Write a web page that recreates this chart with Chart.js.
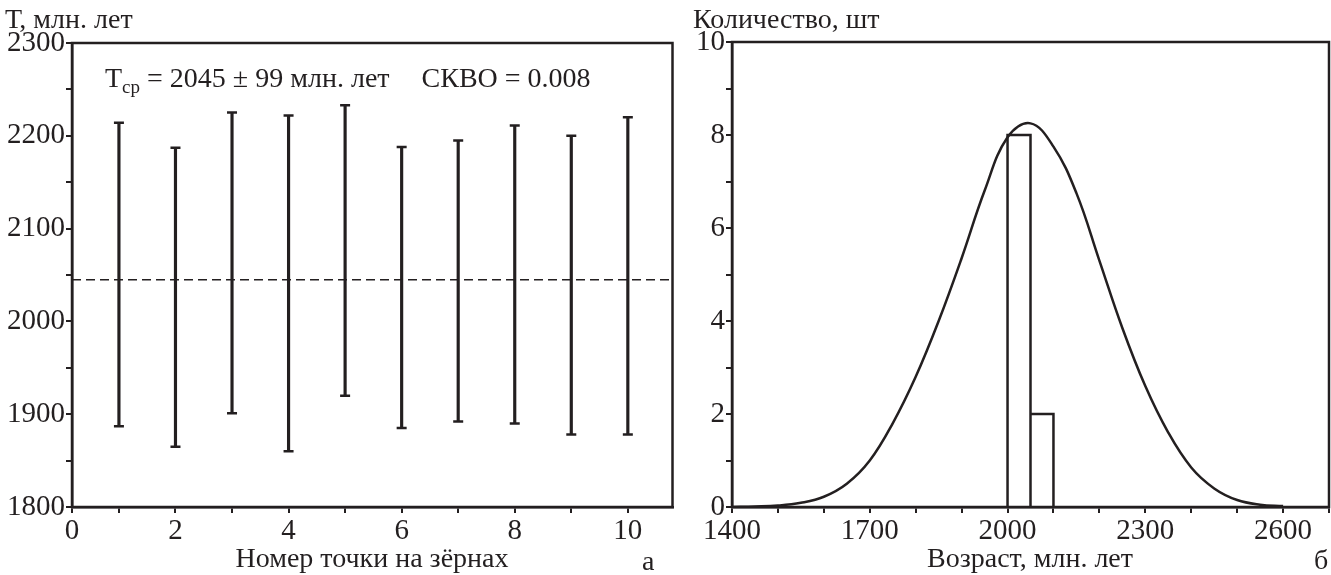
<!DOCTYPE html>
<html lang="ru">
<head>
<meta charset="utf-8">
<title>Возраст зёрен</title>
<script src="https://cdn.jsdelivr.net/npm/chart.js@4.4.1/dist/chart.umd.min.js"></script>
<style>
  html, body { margin: 0; padding: 0; background: #fff; }
  body {
    width: 1331px; height: 575px; position: relative; overflow: hidden;
    font-family: 'Liberation Serif', 'DejaVu Serif', serif; color: #231f20;
  }
  canvas { position: absolute; top: 0; }
  #ageChart { left: 0; }
  #histChart { left: 680px; }
  .lbl { position: absolute; white-space: nowrap; line-height: 1; }
  .lbl sub { font-size: 0.68em; vertical-align: -0.3em; line-height: 0; }
</style>
</head>
<body>
<canvas id="ageChart" width="680" height="575"></canvas>
<canvas id="histChart" width="651" height="575"></canvas>

<div class="lbl" style="left:5px; top:5px; font-size:28px;">Т, млн. лет</div>
<div class="lbl" style="left:105px; top:64px; font-size:28px;">T<sub>ср</sub> = 2045 ± 99 млн. лет<span style="margin-left:32px;">СКВО = 0.008</span></div>
<div class="lbl" style="left:372px; top:544px; font-size:28px; transform:translateX(-50%);">Номер точки на зёрнах</div>
<div class="lbl" style="left:642px; top:547px; font-size:28px;">а</div>

<div class="lbl" style="left:693px; top:5px; font-size:28px;">Количество, шт</div>
<div class="lbl" style="left:1030px; top:544px; font-size:28px; transform:translateX(-50%);">Возраст, млн. лет</div>
<div class="lbl" style="left:1314px; top:546px; font-size:28px;">б</div>

<script>
// Chart.js defaults
const ink = '#231f20';
Chart.defaults.color = ink;
Chart.defaults.font.family = "'Liberation Serif', 'DejaVu Serif', serif";
Chart.defaults.font.size = 29;

// --- Левый график: возраст по точкам ---
const pointNumbers = [1, 2, 3, 4, 5, 6, 7, 8, 9, 10];
const ageLow  = [1887, 1865, 1901, 1860, 1920, 1885, 1892, 1890, 1878, 1878];
const ageHigh = [2214, 2187, 2225, 2222, 2233, 2188, 2195, 2211, 2200, 2220];
const meanAge = 2045;
const leftXLabels = [0, 2, 4, 6, 8, 10];
const leftYLabels = [1800, 1900, 2000, 2100, 2200, 2300];

// --- Правый график: гистограмма и кривая ---
const binEdges = [2000, 2050, 2100];
const binCounts = [8, 2];
const curveAges   = [1400, 1450, 1500, 1550, 1600, 1650, 1700, 1750, 1800, 1850, 1900, 1950, 2000,
                     2050, 2100, 2150, 2200, 2250, 2300, 2350, 2400, 2450, 2500, 2550, 2600];
const curveCounts = [0.0, 0.01, 0.03, 0.09, 0.22, 0.5, 1.0, 1.8, 2.8, 4.0, 5.35, 6.8, 7.95,
                     8.25, 7.75, 6.75, 5.3, 3.85, 2.6, 1.6, 0.85, 0.4, 0.15, 0.05, 0.02];
const rightXLabels = [1400, 1700, 2000, 2300, 2600];
const rightYLabels = [0, 2, 4, 6, 8, 10];

// рамка вокруг области графика
const framePlugin = {
    id: 'frame',
    afterDatasetsDraw(chart) {
        const { ctx, chartArea: a } = chart;
        ctx.save();
        ctx.strokeStyle = ink;
        ctx.lineWidth = 2.5;
        ctx.strokeRect(a.left, a.top, a.right - a.left, a.bottom - a.top);
        ctx.restore();
    }
};

const tickGrid = {
    drawOnChartArea: false,
    drawTicks: true,
    tickLength: 6,
    color: ink,
    lineWidth: 2
};
const axisBorder = { display: true, color: ink, width: 2.5 };

// левый график
const xMin = 0.17;
const xMax = 10.79;

new Chart(document.getElementById('ageChart'), {
    type: 'scatter',
    data: {
        datasets: [
            {
                type: 'bar',
                data: pointNumbers.map((x, i) => ({ x, y: [ageLow[i], ageHigh[i]] })),
                backgroundColor: ink,
                borderWidth: 0,
                barThickness: 2.5,
                grouped: false
            },
            {
                type: 'scatter',
                data: pointNumbers.flatMap((x, i) => [{ x, y: ageLow[i] }, { x, y: ageHigh[i] }]),
                pointStyle: 'line',
                pointRadius: 5,
                borderColor: ink,
                borderWidth: 2.5
            },
            {
                type: 'line',
                data: [{ x: xMin, y: meanAge }, { x: xMax, y: meanAge }],
                borderColor: ink,
                borderWidth: 1.5,
                borderDash: [9, 5],
                pointRadius: 0
            }
        ]
    },
    options: {
        responsive: false,
        animation: false,
        layout: { padding: { top: 43, right: 7, left: 0, bottom: 0 } },
        plugins: { legend: { display: false }, tooltip: { enabled: false } },
        scales: {
            x: {
                type: 'linear',
                min: xMin,
                max: xMax,
                offset: false,
                afterBuildTicks(scale) {
                    scale.ticks = [xMin, ...pointNumbers].map(v => ({ value: v }));
                },
                afterFit(scale) { scale.height = 68; },
                grid: { ...tickGrid, offset: false },
                border: axisBorder,
                ticks: {
                    padding: 1,
                    maxRotation: 0,
                    autoSkip: false,
                    callback: v => v === xMin ? '0' : (leftXLabels.includes(v) ? String(v) : '')
                }
            },
            y: {
                min: 1800,
                max: 2300,
                afterFit(scale) { scale.width = 72; },
                grid: tickGrid,
                border: axisBorder,
                ticks: {
                    stepSize: 50,
                    padding: 1,
                    autoSkip: false,
                    callback: v => leftYLabels.includes(v) ? String(v) : ''
                }
            }
        }
    },
    plugins: [framePlugin]
});

// правый график
const histOutline = [];
binCounts.forEach((c, i) => {
    histOutline.push({ x: binEdges[i], y: 0 }, { x: binEdges[i], y: c },
                     { x: binEdges[i + 1], y: c }, { x: binEdges[i + 1], y: 0 });
});

new Chart(document.getElementById('histChart'), {
    type: 'scatter',
    data: {
        datasets: [
            {
                type: 'line',
                data: histOutline,
                borderColor: ink,
                borderWidth: 2.5,
                pointRadius: 0,
                tension: 0
            },
            {
                type: 'line',
                data: curveAges.map((x, i) => ({ x, y: curveCounts[i] })),
                borderColor: ink,
                borderWidth: 2.5,
                pointRadius: 0,
                tension: 0.4
            }
        ]
    },
    options: {
        responsive: false,
        animation: false,
        layout: { padding: { top: 42, right: 2, left: 0, bottom: 0 } },
        plugins: { legend: { display: false }, tooltip: { enabled: false } },
        scales: {
            x: {
                type: 'linear',
                min: 1400,
                max: 2700,
                afterFit(scale) { scale.height = 68; },
                grid: tickGrid,
                border: axisBorder,
                ticks: {
                    stepSize: 100,
                    padding: 1,
                    maxRotation: 0,
                    autoSkip: false,
                    callback: v => rightXLabels.includes(v) ? String(v) : ''
                }
            },
            y: {
                min: 0,
                max: 10,
                afterFit(scale) { scale.width = 52; },
                grid: tickGrid,
                border: axisBorder,
                ticks: {
                    stepSize: 1,
                    padding: 1,
                    autoSkip: false,
                    callback: v => rightYLabels.includes(v) ? String(v) : ''
                }
            }
        }
    },
    plugins: [framePlugin]
});
</script>
</body>
</html>
